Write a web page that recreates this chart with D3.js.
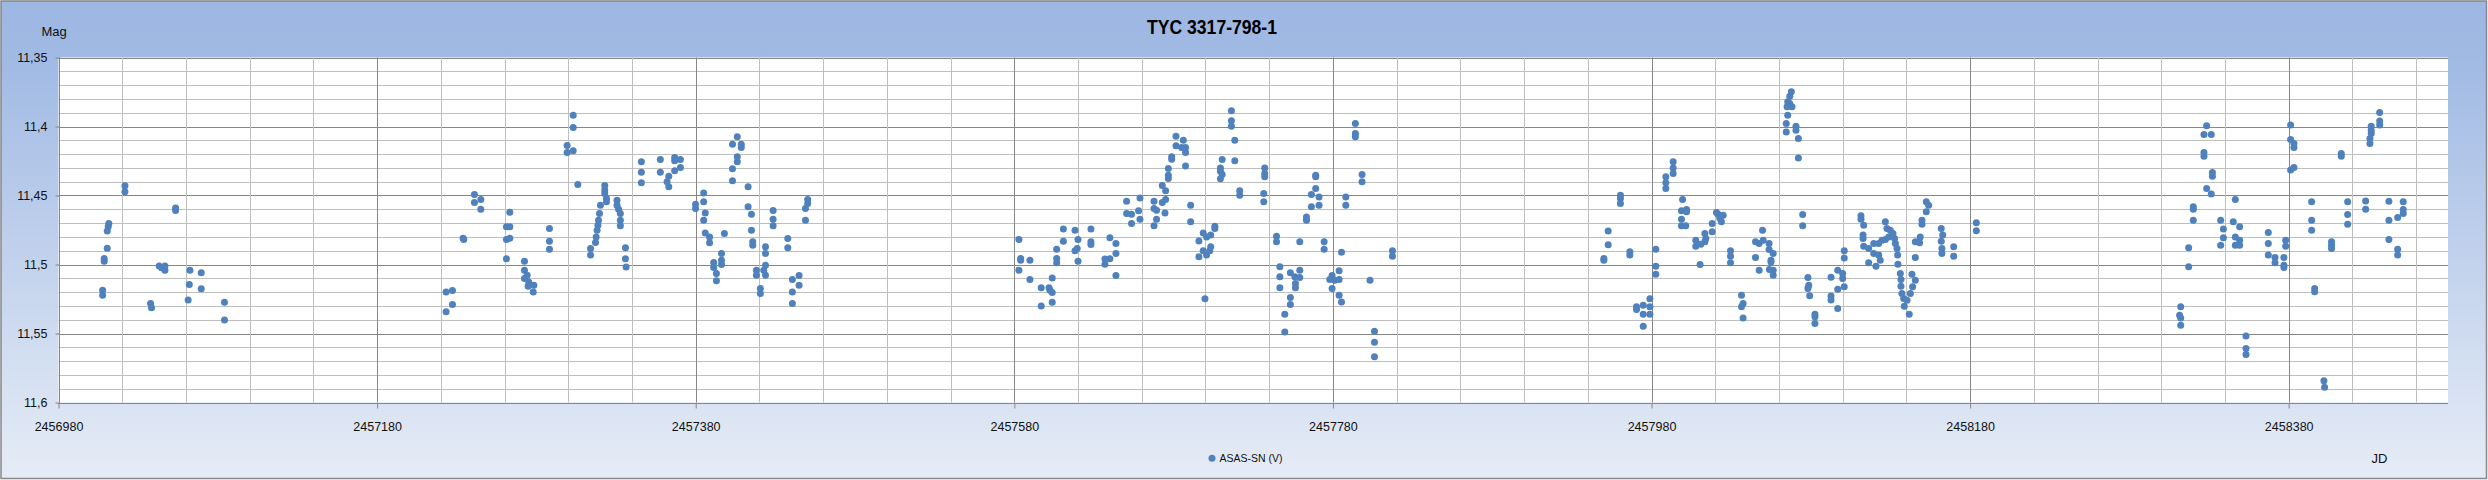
<!DOCTYPE html>
<html><head><meta charset="utf-8">
<script src="https://cdn.jsdelivr.net/npm/d3@7"></script>
<style>
html,body{margin:0;padding:0;background:#fff;}
svg{display:block;font-family:"Liberation Sans",Arial,sans-serif;}
</style></head>
<body><svg id="chart" width="2488" height="480"></svg>
<script>
// ---- data (JD, V magnitude) per observing season ----
const jd1 = [2457021.7,2457021.7,2457053.5,2457053.5,2457011.6,2457011.2,2457010.6,2457010.6,2457008.7,2457008.7,2457007.7,2457007.7,2457043.2,2457046.8,2457046.8,2457044.7,2457037.8,2457038.4,2457062.5,2457069.6,2457062.1,2457069.6,2457061.4,2457084.2,2457084.2];
const mag1 = [11.4430,11.4473,11.4590,11.4608,11.4703,11.4727,11.4758,11.4882,11.4957,11.4976,11.5186,11.5222,11.5010,11.5010,11.5041,11.5024,11.5283,11.5314,11.5041,11.5060,11.5145,11.5176,11.5258,11.5273,11.5403];

const jd2 = [2457223.3,2457227.3,2457227.3,2457223.3,2457234.0,2457234.4,2457241.1,2457241.1,2457245.1,2457245.1,2457263.3,2457261.2,2457263.3,2457261.2,2457263.3,2457261.2,2457272.5,2457272.5,2457274.2,2457272.5,2457275.2,2457274.8,2457278.4,2457278.0,2457288.2,2457288.2,2457288.2,2457303.1,2457303.1,2457299.3,2457299.3,2457303.1,2457306.0,2457322.9,2457322.9,2457322.9,2457324.0,2457324.0,2457320.2,2457330.6,2457330.6,2457331.6,2457332.7,2457332.7,2457332.7,2457319.6,2457319.0,2457318.6,2457318.1,2457317.5,2457317.1,2457314.0,2457314.0,2457335.9,2457335.9,2457336.3,2457345.9,2457345.9,2457345.9,2457357.8,2457357.8,2457366.8,2457366.8,2457370.4,2457370.4,2457366.8,2457363.1,2457362.0,2457363.1,2457379.9,2457379.9,2457385.0,2457385.0,2457386.0,2457385.0,2457386.0,2457388.7,2457388.7,2457391.3,2457391.3,2457393.0,2457393.0,2457396.2,2457396.2,2457396.2,2457398.0,2457403.1,2457406.1,2457408.6,2457408.6,2457406.1,2457406.1,2457403.1,2457403.1,2457412.9,2457412.9,2457415.0,2457415.0,2457415.8,2457415.8,2457423.8,2457423.8,2457418.1,2457418.1,2457422.7,2457423.8,2457423.8,2457420.6,2457420.6,2457428.6,2457428.6,2457428.6,2457437.8,2457437.8,2457440.7,2457440.7,2457440.7,2457444.9,2457444.9,2457448.9,2457448.9,2457450.3,2457450.3];
const mag2 = [11.5200,11.5188,11.5290,11.5343,11.4810,11.4818,11.4493,11.4551,11.4529,11.4599,11.4621,11.4727,11.4727,11.4819,11.4809,11.4959,11.4976,11.5041,11.5077,11.5101,11.5126,11.5157,11.5150,11.5200,11.4739,11.4831,11.4889,11.3918,11.4007,11.4138,11.4188,11.4176,11.4420,11.4428,11.4461,11.4486,11.4522,11.4546,11.4570,11.4534,11.4570,11.4599,11.4630,11.4679,11.4720,11.4630,11.4679,11.4715,11.4751,11.4800,11.4841,11.4884,11.4932,11.4879,11.4959,11.5019,11.4256,11.4331,11.4408,11.4239,11.4331,11.4225,11.4249,11.4239,11.4297,11.4321,11.4360,11.4401,11.4437,11.4563,11.4594,11.4481,11.4546,11.4626,11.4679,11.4771,11.4800,11.4843,11.4986,11.5022,11.5065,11.5118,11.4920,11.4969,11.5000,11.4775,11.4128,11.4075,11.4128,11.4152,11.4220,11.4256,11.4307,11.4394,11.4437,11.4582,11.4635,11.4751,11.4836,11.4860,11.4872,11.4920,11.5041,11.5077,11.5041,11.5005,11.5077,11.5174,11.5210,11.4609,11.4672,11.4720,11.4812,11.4879,11.5109,11.5200,11.5283,11.5080,11.5150,11.4594,11.4679,11.4529,11.4558];

const jd3 = [2457582.9,2457584.0,2457584.0,2457582.9,2457589.8,2457589.8,2457596.9,2457596.9,2457601.8,2457602.4,2457603.8,2457603.8,2457603.8,2457606.6,2457606.6,2457606.6,2457610.8,2457610.8,2457618.1,2457618.1,2457620.0,2457619.5,2457620.0,2457628.1,2457628.1,2457628.1,2457636.9,2457636.9,2457640.0,2457640.0,2457643.8,2457643.8,2457643.8,2457650.5,2457650.5,2457653.6,2457653.6,2457658.0,2457658.9,2457658.9,2457667.7,2457667.7,2457669.3,2457669.3,2457667.7,2457672.9,2457675.0,2457674.6,2457672.9,2457675.0,2457676.7,2457676.7,2457676.7,2457678.8,2457678.8,2457681.5,2457681.5,2457686.1,2457687.5,2457687.5,2457685.0,2457687.5,2457690.7,2457690.7,2457695.9,2457698.6,2457700.7,2457695.9,2457698.6,2457700.7,2457699.7,2457703.3,2457705.9,2457705.9,2457703.3,2457702.7,2457716.3,2457716.3,2457716.3,2457718.4,2457710.5,2457709.4,2457709.4,2457710.5,2457709.4,2457718.4,2457721.5,2457721.5,2457737.2,2457737.2,2457737.2,2457736.6,2457736.6,2457744.6,2457744.6,2457746.7,2457746.7,2457746.7,2457753.3,2457756.1,2457759.2,2457759.2,2457756.5,2457756.5,2457753.3,2457753.3,2457749.8,2457749.8,2457759.2,2457763.4,2457763.4,2457766.5,2457766.5,2457769.2,2457769.2,2457769.2,2457771.3,2457771.3,2457774.5,2457774.5,2457779.5,2457778.0,2457779.5,2457781.2,2457783.9,2457783.9,2457783.9,2457785.4,2457785.4,2457788.1,2457788.1,2457794.1,2457794.1,2457794.1,2457798.3,2457798.3,2457803.3,2457806.1,2457806.1,2457806.1,2457817.4,2457817.4];
const mag3 = [11.4819,11.4957,11.4969,11.5041,11.4969,11.5109,11.5169,11.5300,11.5169,11.5186,11.5097,11.5203,11.5273,11.4889,11.4957,11.4988,11.4742,11.4831,11.4751,11.4901,11.4819,11.4884,11.4976,11.4742,11.4836,11.4855,11.4961,11.4998,11.4959,11.4807,11.4848,11.4920,11.5080,11.4541,11.4630,11.4635,11.4703,11.4611,11.4672,11.4519,11.4541,11.4594,11.4606,11.4672,11.4720,11.4551,11.4529,11.4626,11.4428,11.4466,11.4377,11.4353,11.4304,11.4220,11.4237,11.4070,11.4140,11.4099,11.4152,11.4188,11.4152,11.4287,11.4570,11.4691,11.4829,11.4771,11.4800,11.4944,11.4901,11.4932,11.5249,11.4787,11.4722,11.4739,11.4872,11.4901,11.3886,11.3959,11.3998,11.4099,11.4239,11.4300,11.4324,11.4348,11.4379,11.4249,11.4466,11.4498,11.4300,11.4341,11.4365,11.4486,11.4546,11.4795,11.4836,11.5017,11.5089,11.5169,11.5060,11.5089,11.5094,11.5041,11.5138,11.5169,11.5239,11.5290,11.5360,11.5490,11.4836,11.4655,11.4679,11.4493,11.4582,11.4353,11.4365,11.4449,11.4510,11.4570,11.4836,11.4889,11.5080,11.5109,11.5174,11.5114,11.5109,11.5046,11.5222,11.5271,11.4911,11.4510,11.4570,11.3978,11.4051,11.4075,11.4348,11.4401,11.5114,11.5483,11.5563,11.5669,11.4901,11.4940];

const jd4 = [2457952.8,2457952.8,2457950.1,2457950.1,2457960.5,2457960.5,2457960.5,2457966.4,2457966.4,2457970.6,2457970.6,2457974.8,2457974.8,2457974.8,2457979.0,2457979.0,2457979.0,2457982.7,2457982.7,2457982.7,2457993.6,2457993.6,2457993.6,2457989.0,2457989.0,2457989.0,2457999.5,2457998.8,2458002.0,2458002.0,2457998.8,2457998.8,2458001.5,2458007.8,2458007.8,2458011.0,2458013.5,2458013.5,2458014.1,2458010.5,2458018.1,2458018.1,2458020.8,2458021.8,2458025.0,2458023.9,2458022.9,2458029.6,2458029.6,2458029.6,2458036.5,2458037.5,2458036.5,2458037.5,2458045.3,2458045.3,2458047.6,2458049.7,2458050.1,2458047.6,2458053.8,2458053.8,2458056.4,2458055.0,2458055.0,2458054.0,2458056.4,2458056.4,2458067.8,2458066.8,2458065.5,2458066.8,2458068.2,2458065.1,2458065.5,2458064.6,2458064.6,2458070.7,2458070.7,2458072.2,2458072.2,2458074.9,2458074.9,2458078.2,2458078.7,2458078.2,2458079.3,2458082.6,2458082.6,2458082.6,2458092.7,2458092.7,2458092.7,2458096.9,2458096.9,2458096.9,2458100.0,2458100.0,2458101.0,2458101.0,2458101.0,2458111.5,2458111.5,2458113.2,2458112.8,2458112.8,2458113.2,2458116.3,2458119.5,2458116.3,2458120.9,2458119.5,2458122.6,2458123.6,2458122.6,2458124.7,2458126.8,2458128.9,2458126.8,2458127.8,2458129.9,2458131.6,2458132.6,2458133.1,2458134.1,2458134.5,2458134.7,2458136.2,2458136.6,2458136.6,2458137.2,2458138.3,2458138.7,2458140.4,2458141.8,2458142.5,2458143.9,2458143.5,2458145.6,2458145.6,2458145.6,2458148.3,2458148.7,2458149.8,2458149.8,2458152.5,2458154.0,2458152.5,2458161.9,2458162.8,2458161.9,2458162.3,2458162.3,2458169.7,2458169.7,2458183.9,2458183.9];
const mag4 = [11.4758,11.4857,11.4957,11.4969,11.4498,11.4522,11.4558,11.4908,11.4932,11.5307,11.5326,11.5295,11.5360,11.5447,11.5249,11.5307,11.5360,11.4889,11.5012,11.5070,11.4256,11.4300,11.4341,11.4365,11.4408,11.4449,11.4529,11.4611,11.4601,11.4618,11.4672,11.4720,11.4720,11.4824,11.4867,11.4853,11.4836,11.4775,11.4812,11.5000,11.4703,11.4763,11.4623,11.4635,11.4643,11.4691,11.4667,11.4901,11.4940,11.4988,11.5222,11.5283,11.5307,11.5387,11.4836,11.4949,11.4848,11.4751,11.4824,11.5041,11.4848,11.4891,11.4920,11.4969,11.4981,11.5036,11.5041,11.5077,11.3749,11.3780,11.3821,11.3833,11.3857,11.3857,11.3918,11.3978,11.4039,11.3998,11.4027,11.4087,11.4229,11.4638,11.4720,11.5094,11.5150,11.5174,11.5227,11.5360,11.5379,11.5428,11.5092,11.5229,11.5258,11.5041,11.5179,11.5319,11.5065,11.5101,11.5162,11.4901,11.4952,11.4647,11.4672,11.4715,11.4787,11.4812,11.4867,11.4884,11.4848,11.4988,11.5012,11.4920,11.4932,11.4969,11.4848,11.4824,11.4819,11.4800,11.4691,11.4739,11.4751,11.4775,11.4812,11.4848,11.4884,11.4932,11.4998,11.5065,11.5109,11.5157,11.5210,11.5246,11.5302,11.5259,11.5360,11.5210,11.5162,11.5070,11.5114,11.4949,11.4836,11.4843,11.4800,11.4679,11.4708,11.4546,11.4570,11.4618,11.4739,11.4787,11.4831,11.4884,11.4920,11.4872,11.4940,11.4698,11.4756];

const jd5 = [2458312.2,2458311.5,2458312.2,2458312.2,2458317.2,2458317.2,2458320.1,2458320.1,2458320.1,2458328.5,2458326.8,2458331.4,2458326.8,2458326.8,2458332.1,2458332.1,2458328.5,2458331.4,2458337.3,2458339.0,2458339.0,2458337.3,2458346.5,2458345.2,2458349.2,2458346.5,2458349.2,2458346.5,2458349.2,2458353.2,2458353.2,2458353.2,2458367.2,2458367.2,2458367.2,2458371.4,2458371.4,2458377.0,2458377.0,2458377.0,2458378.1,2458378.1,2458381.2,2458381.2,2458383.3,2458383.3,2458381.2,2458383.3,2458394.4,2458394.4,2458394.4,2458396.3,2458396.3,2458402.1,2458402.5,2458406.9,2458406.9,2458406.9,2458413.0,2458413.0,2458417.0,2458417.0,2458417.0,2458428.3,2458428.3,2458431.0,2458431.0,2458431.8,2458431.8,2458431.8,2458437.1,2458437.1,2458437.1,2458442.9,2458442.9,2458442.9,2458448.4,2458448.4,2458448.4,2458451.9,2458451.9,2458451.9];
const mag5 = [11.5307,11.5367,11.5387,11.5440,11.4879,11.5017,11.4582,11.4599,11.4679,11.3995,11.4058,11.4058,11.4188,11.4215,11.4333,11.4360,11.4449,11.4490,11.4679,11.4742,11.4807,11.4860,11.4529,11.4691,11.4727,11.4800,11.4824,11.4860,11.4860,11.5519,11.5609,11.5652,11.4768,11.4848,11.4932,11.4949,11.4988,11.4949,11.5005,11.5022,11.4824,11.4867,11.3990,11.4094,11.4123,11.4152,11.4316,11.4297,11.4546,11.4679,11.4751,11.5174,11.5198,11.5843,11.5890,11.4836,11.4860,11.4884,11.4196,11.4215,11.4546,11.4638,11.4708,11.4539,11.4599,11.4123,11.4087,11.4051,11.3998,11.4027,11.3899,11.3961,11.3990,11.4541,11.4679,11.4819,11.4659,11.4889,11.4932,11.4546,11.4601,11.4630];

const chartTitle = "TYC 3317-798-1";
const seriesName = "ASAS-SN (V)";
const yAxisTitle = "Mag";
const xAxisTitle = "JD";
const xDomain = [2456980, 2458480];
const yDomain = [11.35, 11.6];
const xTickValues = [2456980, 2457180, 2457380, 2457580, 2457780, 2457980, 2458180, 2458380];
const yTickValues = [11.35, 11.40, 11.45, 11.50, 11.55, 11.60];
const yTickLabels = ["11,35", "11,4", "11,45", "11,5", "11,55", "11,6"];

// ---- build ----
const points = [];
[[jd1,mag1],[jd2,mag2],[jd3,mag3],[jd4,mag4],[jd5,mag5]].forEach(([j,m]) => {
  j.forEach((v,i) => points.push({jd: v, mag: m[i]}));
});

const W = 2488, H = 480;
const plot = {left: 58.5, right: 2448, top: 57.5, bottom: 402.5};
const svg = d3.select("#chart");

const defs = svg.append("defs");
const grad = defs.append("linearGradient").attr("id","bg").attr("x1",0).attr("y1",0).attr("x2",0).attr("y2",1);
grad.append("stop").attr("offset","0%").attr("stop-color","#9db7e3");
grad.append("stop").attr("offset","12%").attr("stop-color","#a1bae4");
grad.append("stop").attr("offset","100%").attr("stop-color","#e6ecf6");

svg.append("rect").attr("x",1).attr("y",1).attr("width",W-2.5).attr("height",H-2.5)
  .attr("fill","url(#bg)").attr("stroke","#878787").attr("stroke-width",1.5);

const x = d3.scaleLinear().domain(xDomain).range([plot.left, plot.right]);
const y = d3.scaleLinear().domain(yDomain).range([plot.top, plot.bottom]);

svg.append("rect").attr("x",plot.left).attr("y",plot.top)
  .attr("width",plot.right-plot.left).attr("height",plot.bottom-plot.top).attr("fill","#fff");

// gridlines
const hVals = d3.range(0, 26).map(i => +(yDomain[0] + i*0.01).toFixed(2));
const vVals = d3.range(xDomain[0], xDomain[1], 40);
const grid = svg.append("g");
grid.selectAll("line.h").data(hVals).join("line")
  .attr("x1",plot.left).attr("x2",plot.right)
  .attr("y1",d=>Math.round(y(d))+0.5).attr("y2",d=>Math.round(y(d))+0.5)
  .attr("stroke",(d,i)=> i%5===0 ? "#868686" : "#bfbfbf").attr("stroke-width",1);
grid.selectAll("line.v").data(vVals).join("line")
  .attr("y1",plot.top).attr("y2",plot.bottom)
  .attr("x1",d=>Math.round(x(d))+0.5).attr("x2",d=>Math.round(x(d))+0.5)
  .attr("stroke",d=> (d-xDomain[0])%200===0 ? "#868686" : "#bfbfbf").attr("stroke-width",1);

// axes
const yAxis = d3.axisLeft(y).tickValues(yTickValues).tickSize(4).tickPadding(8)
  .tickFormat((d,i)=>yTickLabels[i]);
const gy = svg.append("g").attr("transform",`translate(${Math.round(plot.left)+0.5},0)`).call(yAxis);
gy.select(".domain").attr("stroke","#868686").attr("d",`M0,${plot.top}V${plot.bottom}`);
gy.selectAll(".tick line").attr("stroke","#868686");
gy.selectAll(".tick text").attr("font-size","12.5px").attr("fill","#111")
  .attr("font-family",'"Liberation Sans",Arial,sans-serif').attr("dy","0.35em");

const xAxis = d3.axisBottom(x).tickValues(xTickValues).tickSize(5).tickPadding(14)
  .tickFormat(d3.format("d"));
const gx = svg.append("g").attr("transform",`translate(0,${Math.round(plot.bottom)+0.5})`).call(xAxis);
gx.select(".domain").attr("stroke","#868686").attr("d",`M${plot.left},0H${plot.right}`);
gx.selectAll(".tick line").attr("stroke","#868686");
gx.selectAll(".tick text").attr("font-size","12.5px").attr("fill","#111")
  .attr("font-family",'"Liberation Sans",Arial,sans-serif');

// points
svg.append("g").selectAll("circle").data(points).join("circle")
  .attr("cx",d=>x(d.jd)).attr("cy",d=>y(d.mag)).attr("r",3.5)
  .attr("fill","#4f81bd");

// titles
svg.append("text").attr("x",1212).attr("y",33.5).attr("text-anchor","middle")
  .attr("font-size","21px").attr("font-weight","bold").attr("fill","#000")
  .attr("textLength",130).attr("lengthAdjust","spacingAndGlyphs").text(chartTitle);
svg.append("text").attr("x",41.5).attr("y",35.5).attr("font-size","13px").attr("fill","#111").text(yAxisTitle);
svg.append("text").attr("x",2371.5).attr("y",463).attr("font-size","13px").attr("fill","#111").text(xAxisTitle);

// legend
svg.append("circle").attr("cx",1212).attr("cy",458.3).attr("r",3.5).attr("fill","#4f81bd");
svg.append("text").attr("x",1219.5).attr("y",462).attr("font-size","10.5px").attr("fill","#111").text(seriesName);
</script></body></html>
